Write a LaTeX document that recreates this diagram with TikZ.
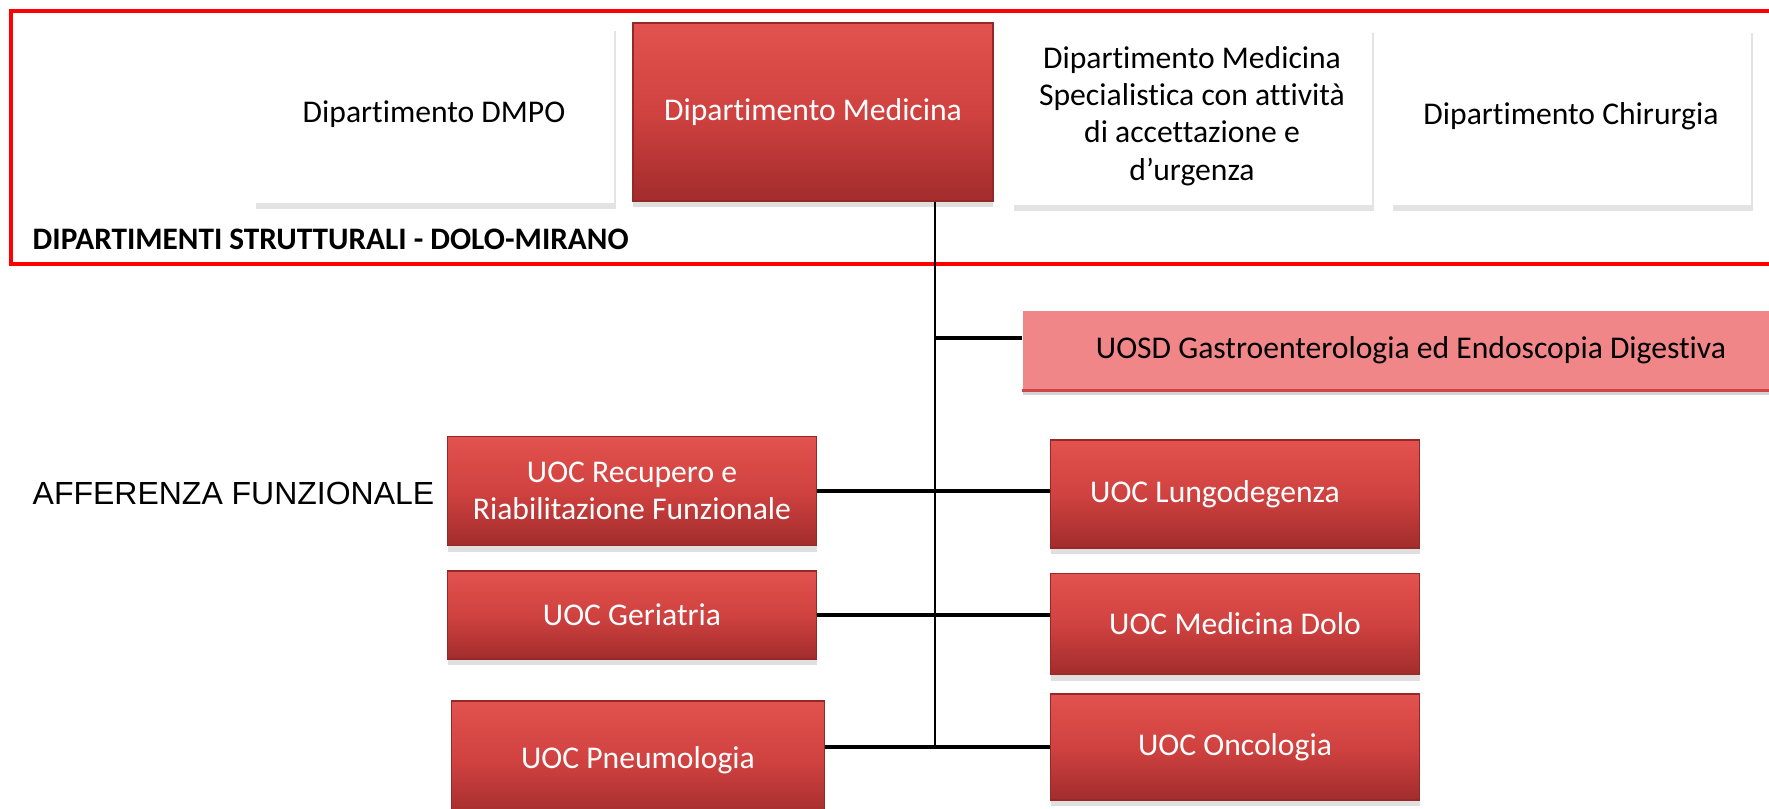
\documentclass[tikz,border=0pt]{standalone}
\usepackage{fontspec}
\setmainfont{Carlito}[Ligatures=NoCommon, RawFeature={-liga;-clig;-calt;-dlig}]
\newfontfamily\arialfont{Liberation Sans}
\usetikzlibrary{shadows}

\definecolor{uocTop}{RGB}{226,82,78}
\definecolor{uocMid}{RGB}{208,66,64}
\definecolor{uocBot}{RGB}{162,44,44}
\definecolor{uocEdge}{RGB}{150,40,40}
\definecolor{uosdFill}{RGB}{240,134,136}
\definecolor{uosdEdge}{RGB}{205,70,72}
\definecolor{frameRed}{RGB}{255,0,0}

\tikzset{
  boxfont/.style={font=\fontsize{9}{10.6}\selectfont},
  dipbox/.style={rectangle, fill=white, align=center, boxfont,
    minimum width=36mm, minimum height=17.8mm,
    drop shadow={shadow xshift=0.2mm, shadow yshift=-0.6mm, opacity=0.22}},
  uocbox/.style={rectangle, draw=uocEdge, top color=uocTop, bottom color=uocBot,
    middle color=uocMid, text=white, align=center, boxfont, minimum width=36.9mm,
    drop shadow={shadow xshift=0mm, shadow yshift=-0.6mm, opacity=0.25}},
  link/.style={line width=0.9pt},
  trunk/.style={line width=0.6pt},
}

\begin{document}
\begin{tikzpicture}[x=0.1mm, y=-0.1mm]
   \clip (0,0) rectangle (1769,808);

   % dipartimenti strutturali
   \draw[frameRed, line width=1.4pt] (11,11) rectangle (1800,264);
   \node[anchor=base west, inner sep=0pt, font=\fontsize{8.9}{10}\selectfont\bfseries] (titolo) at (32,250) {DIPARTIMENTI STRUTTURALI - DOLO-MIRANO};

   \node[dipbox] (dmpo) at (434,114) {Dipartimento DMPO};
   \node[uocbox, minimum width=36mm, minimum height=17.8mm] (med) at (813,112) {Dipartimento Medicina};
   \node[dipbox] (spec) at (1192,116) {Dipartimento Medicina\\Specialistica con attività\\di accettazione e\\d’urgenza};
   \node[dipbox] (chir) at (1571,116) {Dipartimento Chirurgia};

   % unita operative
   \node[rectangle, fill=uosdFill, boxfont, minimum width=77.6mm, minimum height=7.9mm,
     drop shadow={shadow xshift=0mm, shadow yshift=-0.5mm, opacity=0.35}] (uosd) at (1411,350) {UOSD Gastroenterologia ed Endoscopia Digestiva};
   \draw[uosdEdge, line width=0.8pt] (uosd.south west) -- (uosd.south east);

   \node[anchor=base west, inner sep=0pt, font=\arialfont\fontsize{9.1}{10}\selectfont] (afferenza) at (32,504) {AFFERENZA FUNZIONALE};

   \node[uocbox, minimum height=10.9mm] (rec) at (632,491) {UOC Recupero e\\Riabilitazione Funzionale};
   \node[uocbox, minimum height=10.8mm] (lungo) at (1235,494) {UOC Lungodegenza\hspace{4mm}};
   \node[uocbox, minimum height=8.8mm] (ger) at (632,615) {UOC Geriatria};
   \node[uocbox, minimum height=10.1mm] (dolo) at (1235,624) {UOC Medicina Dolo};
   \node[uocbox, minimum width=37.3mm, minimum height=11.8mm] (pne) at (638,760) {UOC Pneumologia};
   \node[uocbox, minimum height=10.6mm] (onc) at (1235,747) {UOC Oncologia};

   % collegamenti
   \coordinate (nodo) at ([xshift=12.2mm]med.south);
   \draw[trunk] (nodo) -- (nodo |- onc.west);
   \draw[link] ([yshift=1.2mm]uosd.west) -- ([yshift=1.2mm]uosd.west -| nodo);
   \draw[link] (rec.east) -- (rec.east -| lungo.west);
   \draw[link] (ger.east) -- (ger.east -| dolo.west);
   \draw[link] (onc.west) -- (onc.west -| pne.east);
\end{tikzpicture}
\end{document}
